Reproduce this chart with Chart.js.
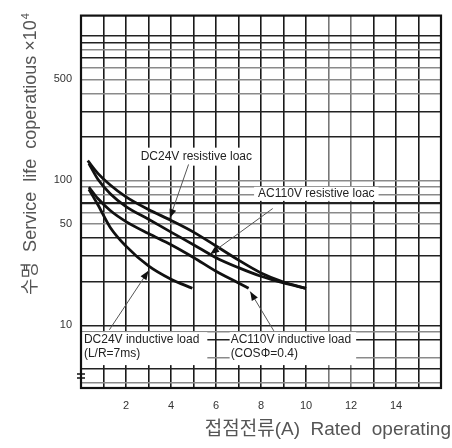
<!DOCTYPE html>
<html>
<head>
<meta charset="utf-8">
<script src="https://cdn.jsdelivr.net/npm/chart.js@4.4.0/dist/chart.umd.min.js"></script>
<style>
  html, body { margin: 0; padding: 0; background: #fff; }
</style>
</head>
<body>
<canvas id="graficoVita" width="452" height="448"></canvas>
<script>
// curve: corrente (A) -> vita (x 10^4 operazioni)
var correntiDC24VRes = [0.3, 0.75, 1.3, 2, 3, 4, 5, 6, 7, 8, 9, 10];
var vitaDC24VRes = [137, 112, 93, 77, 63, 53, 44, 35.3, 28.2, 23, 19.9, 18];

var correntiAC110VRes = [0.35, 0.75, 1.3, 2, 3, 4, 5, 6, 7, 8, 9, 10];
var vitaAC110VRes = [131, 102, 81, 66, 54, 44, 36, 29.3, 25, 21.8, 19.6, 18];

var correntiAC110VInd = [0.35, 0.75, 1.3, 2, 3, 4, 5, 6, 7, 7.45];
var vitaAC110VInd = [90, 75, 62, 52, 43, 36, 29.4, 23.6, 19.6, 18];

var correntiDC24VInd = [0.35, 0.75, 1.3, 2, 3, 4, 4.95];
var vitaDC24VInd = [87, 68, 47.4, 35.2, 25.7, 20.8, 18];

var etichetteX = [2, 4, 6, 8, 10, 12, 14];
var etichetteY = [10, 50, 100, 500];
var lineeY = [1000, 900, 800, 700, 600, 500, 400, 300, 200, 100, 90, 80, 70, 60, 50, 40, 30, 20, 10, 9, 8, 6, 5, 4];

var titoloY = "\uC218\uBA85  Service  life  coperatious \u00D710";
var titoloX = "\uC811\uC810\uC804\uB958(A)  Rated  operating";

function punti(xs, ys) {
  return xs.map(function(x, i) { return { x: x, y: ys[i] }; });
}

function curva(xs, ys) {
  return {
    data: punti(xs, ys),
    borderColor: '#111',
    borderWidth: 2.8,
    pointRadius: 0,
    fill: false,
    cubicInterpolationMode: 'monotone'
  };
}

// note con freccia (posizioni in unita del grafico)
var note = [
  { righe: ['DC24V resistive loac'], x: 2.65, y: 146, da: [4.78, 129], a: [3.95, 55], pad: [3, 3, 9, 9] },
  { righe: ['AC110V resistive loac'], x: 7.87, y: 80.8, da: [8.52, 64], a: [5.74, 31], pad: [4, 4, 7, 7] },
  { righe: ['DC24V inductive load', '(L/R=7ms)'], x: 0.13, y: 7.9, da: [1.26, 9.3], a: [3.0, 23.8], pad: [2, 8, 8, 11] },
  { righe: ['AC110V inductive load', '(COS\u03A6=0.4)'], x: 6.65, y: 7.9, da: [8.57, 9.15], a: [7.52, 17.1], pad: [1, 5, 8, 11] }
];

var fontNote = '12px "Liberation Sans", Arial, sans-serif';

function freccia(ctx, x1, y1, x2, y2) {
  ctx.strokeStyle = '#555';
  ctx.lineWidth = 1;
  ctx.beginPath();
  ctx.moveTo(x1, y1);
  ctx.lineTo(x2, y2);
  ctx.stroke();
  var ang = Math.atan2(y2 - y1, x2 - x1);
  ctx.fillStyle = '#111';
  ctx.beginPath();
  ctx.moveTo(x2, y2);
  ctx.lineTo(x2 - 9 * Math.cos(ang) + 3.5 * Math.sin(ang), y2 - 9 * Math.sin(ang) - 3.5 * Math.cos(ang));
  ctx.lineTo(x2 - 9 * Math.cos(ang) - 3.5 * Math.sin(ang), y2 - 9 * Math.sin(ang) + 3.5 * Math.cos(ang));
  ctx.closePath();
  ctx.fill();
}

var decorazioni = {
  id: 'decorazioni',
  beforeDatasetsDraw: function(chart) {
    var ctx = chart.ctx, sx = chart.scales.x, sy = chart.scales.y;
    ctx.save();
    ctx.font = fontNote;
    note.forEach(function(n) {
      var x0 = sx.getPixelForValue(n.x);
      var y0 = sy.getPixelForValue(n.y);
      var w = 0;
      n.righe.forEach(function(r) { w = Math.max(w, ctx.measureText(r).width); });
      var h = (n.righe.length - 1) * 14;
      ctx.fillStyle = '#fff';
      ctx.fillRect(x0 - n.pad[0], y0 - n.pad[2], w + n.pad[0] + n.pad[1], h + n.pad[2] + n.pad[3]);
    });
    ctx.restore();
  },
  afterDatasetsDraw: function(chart) {
    var ctx = chart.ctx, sx = chart.scales.x, sy = chart.scales.y, area = chart.chartArea;
    ctx.save();

    // cornice
    ctx.strokeStyle = '#111';
    ctx.lineWidth = 2.2;
    ctx.strokeRect(area.left, area.top, area.right - area.left, area.bottom - area.top);
    ctx.lineWidth = 1.5;
    ctx.beginPath();
    ctx.moveTo(area.left - 4, area.bottom - 14);
    ctx.lineTo(area.left + 4, area.bottom - 14);
    ctx.moveTo(area.left - 4, area.bottom - 10);
    ctx.lineTo(area.left + 4, area.bottom - 10);
    ctx.stroke();

    // note
    ctx.font = fontNote;
    ctx.textBaseline = 'middle';
    ctx.textAlign = 'left';
    note.forEach(function(n) {
      var x0 = sx.getPixelForValue(n.x);
      var y0 = sy.getPixelForValue(n.y);
      freccia(ctx, sx.getPixelForValue(n.da[0]), sy.getPixelForValue(n.da[1]),
                   sx.getPixelForValue(n.a[0]), sy.getPixelForValue(n.a[1]));
      ctx.fillStyle = '#222';
      n.righe.forEach(function(r, i) { ctx.fillText(r, x0, y0 + i * 14); });
    });

    // titoli assi
    ctx.fillStyle = '#555';
    ctx.font = '19px "Liberation Sans", Arial, "Noto Sans CJK KR", sans-serif';
    ctx.textAlign = 'right';
    ctx.textBaseline = 'alphabetic';
    ctx.fillText(titoloX, 451, 435);

    ctx.font = '18px "Liberation Sans", Arial, "Noto Sans CJK KR", sans-serif';
    ctx.translate(31, 295);
    ctx.rotate(-Math.PI / 2);
    ctx.textAlign = 'left';
    ctx.textBaseline = 'middle';
    ctx.fillText(titoloY, 0, 0);
    var wt = ctx.measureText(titoloY).width;
    ctx.font = '11px "Liberation Sans", Arial, sans-serif';
    ctx.fillText('4', wt + 1, -5);
    ctx.restore();
  }
};

var lineeScureY = [1000, 900, 700, 300, 200, 70, 40, 30, 20, 10, 8, 5];
var lineeChiareX = [11, 12];

var graficoVita = new Chart(document.getElementById('graficoVita'), {
  type: 'line',
  data: {
    datasets: [
      curva(correntiDC24VRes, vitaDC24VRes),
      curva(correntiAC110VRes, vitaAC110VRes),
      curva(correntiAC110VInd, vitaAC110VInd),
      curva(correntiDC24VInd, vitaDC24VInd)
    ]
  },
  options: {
    responsive: false,
    animation: false,
    layout: { padding: { top: 10, right: 3, left: 0, bottom: 0 } },
    plugins: {
      legend: { display: false },
      tooltip: { enabled: false }
    },
    scales: {
      x: {
        type: 'linear',
        min: 0,
        max: 16,
        afterFit: function(s) { s.height = 60; },
        border: { display: false },
        grid: {
          drawTicks: false,
          color: function(c) { return lineeChiareX.indexOf(c.tick.value) >= 0 ? '#777' : '#1a1a1a'; },
          lineWidth: 1.6
        },
        ticks: {
          stepSize: 1,
          autoSkip: false,
          maxRotation: 0,
          padding: 11,
          color: '#333',
          font: { family: '"Liberation Sans", Arial, sans-serif', size: 11 },
          callback: function(v) { return etichetteX.indexOf(v) >= 0 ? String(v) : ''; }
        }
      },
      y: {
        type: 'logarithmic',
        min: 3.69,
        max: 1375,
        afterBuildTicks: function(s) { s.ticks = lineeY.map(function(v) { return { value: v }; }); },
        afterFit: function(s) { s.width = 81; },
        border: { display: false },
        grid: {
          drawTicks: false,
          color: function(c) { return lineeScureY.indexOf(c.tick.value) >= 0 ? '#222' : '#8a8a8a'; },
          lineWidth: function(c) { return c.tick.value === 70 ? 2.2 : 1.4; }
        },
        ticks: {
          autoSkip: false,
          padding: 9,
          color: '#333',
          font: { family: '"Liberation Sans", Arial, sans-serif', size: 11 },
          callback: function(v) { return etichetteY.indexOf(v) >= 0 ? String(v) : ''; }
        }
      }
    }
  },
  plugins: [decorazioni]
});
</script>
</body>
</html>
